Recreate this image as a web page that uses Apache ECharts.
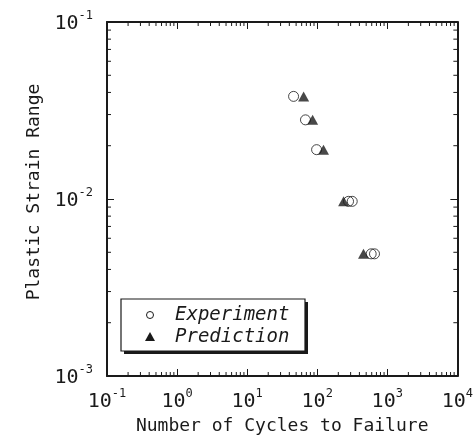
<!DOCTYPE html>
<html>
<head>
<meta charset="utf-8">
<script src="https://cdn.jsdelivr.net/npm/echarts@6/dist/echarts.min.js"></script>
<style>
  html, body { margin: 0; padding: 0; background: #ffffff; }
  #chart { width: 476px; height: 445px; }
</style>
</head>
<body>
<div id="chart"></div>
<script>
// Fatigue data: cycles to failure vs plastic strain range
const experimentCycles = [46, 68, 98, 280, 316, 589, 657];
const experimentStrain = [0.038, 0.028, 0.019, 0.0097, 0.0097, 0.0049, 0.0049];
const predictionCycles = [64, 86, 123, 238, 458];
const predictionStrain = [0.038, 0.028, 0.019, 0.0097, 0.0049];

const seriesNames = ['Experiment', 'Prediction'];
const xAxisName = 'Number of Cycles to Failure';
const yAxisName = 'Plastic Strain Range';
const xTickExponents = [-1, 0, 1, 2, 3, 4];
const yTickExponents = [-3, -2, -1];

const FONT = 'DejaVu Sans Mono';
const INK = '#1a1a1a';

const xMin = Math.pow(10, xTickExponents[0]);
const xMax = Math.pow(10, xTickExponents[xTickExponents.length - 1]);
const yMin = Math.pow(10, yTickExponents[0]);
const yMax = Math.pow(10, yTickExponents[yTickExponents.length - 1]);

// minor tick values 2..9 within each decade
function minorValues(exps) {
  const out = [];
  for (let i = 0; i < exps.length - 1; i++) {
    for (let m = 2; m <= 9; m++) out.push(m * Math.pow(10, exps[i]));
  }
  return out;
}

function powerLabel(value) {
  const e = Math.round(Math.log10(value));
  return '{b|10}{s|' + e + '}';
}

const labelRich = {
  b: { fontFamily: FONT, fontSize: 20, color: INK, lineHeight: 24, verticalAlign: 'bottom' },
  s: { fontFamily: FONT, fontSize: 12, color: INK, lineHeight: 24, verticalAlign: 'top', padding: [0, 0, 8, 0] }
};

const axisLineStyle = { show: true, lineStyle: { color: INK, width: 2 } };
const majorTick = { show: true, inside: true, length: 7, lineStyle: { color: INK, width: 1 } };

function pairs(xs, ys) { return xs.map((x, i) => [x, ys[i]]); }

// legend box (drawn as graphic elements with a hard drop shadow)
const legendBox = { x: 121, y: 299, w: 184, h: 52 };
const legendRowY = [315, 337];
const legendIconX = 150;
const legendTextX = 175;

const legendGraphic = [
  { type: 'rect', z: 50, shape: { x: legendBox.x + 3, y: legendBox.y + 3, width: legendBox.w, height: legendBox.h },
    style: { fill: INK } },
  { type: 'rect', z: 51, shape: { x: legendBox.x, y: legendBox.y, width: legendBox.w, height: legendBox.h },
    style: { fill: '#ffffff', stroke: INK, lineWidth: 1.2 } },
  { type: 'circle', z: 52, shape: { cx: legendIconX, cy: legendRowY[0], r: 3.5 },
    style: { fill: 'none', stroke: INK, lineWidth: 1 } },
  { type: 'polygon', z: 52, shape: { points: [[legendIconX, legendRowY[1] - 5], [legendIconX - 5, legendRowY[1] + 4], [legendIconX + 5, legendRowY[1] + 4]] },
    style: { fill: INK } },
  { type: 'text', z: 52, x: legendTextX, y: legendRowY[0],
    style: { text: seriesNames[0], font: 'italic 19px "' + FONT + '"', fill: INK, verticalAlign: 'middle', align: 'left' } },
  { type: 'text', z: 52, x: legendTextX, y: legendRowY[1],
    style: { text: seriesNames[1], font: 'italic 19px "' + FONT + '"', fill: INK, verticalAlign: 'middle', align: 'left' } }
];

const option = {
  animation: false,
  backgroundColor: '#ffffff',
  grid: { left: 107, right: 18, top: 22, bottom: 69, containLabel: false },
  xAxis: [
    {
      type: 'log', logBase: 10, min: xMin, max: xMax, splitNumber: 5,
      position: 'bottom',
      name: xAxisName, nameLocation: 'middle', nameGap: 36,
      nameTextStyle: { fontFamily: FONT, fontSize: 18, color: INK },
      axisLine: axisLineStyle, axisTick: majorTick,
      axisLabel: { margin: 12, formatter: powerLabel, rich: labelRich },
      splitLine: { show: false }
    },
    {
      type: 'log', logBase: 10, min: xMin, max: xMax, splitNumber: 5,
      position: 'top',
      axisLine: axisLineStyle, axisTick: majorTick,
      axisLabel: { show: false }, splitLine: { show: false }
    }
  ],
  yAxis: [
    {
      type: 'log', logBase: 10, min: yMin, max: yMax, splitNumber: 2,
      position: 'left',
      name: yAxisName, nameLocation: 'middle', nameGap: 57, nameRotate: 90,
      nameTextStyle: { fontFamily: FONT, fontSize: 18, color: INK, padding: [0, 0, 0, 14] },
      axisLine: axisLineStyle, axisTick: majorTick,
      axisLabel: { margin: 14, formatter: powerLabel, rich: labelRich },
      splitLine: { show: false }
    },
    {
      type: 'log', logBase: 10, min: yMin, max: yMax, splitNumber: 2,
      position: 'right',
      axisLine: axisLineStyle, axisTick: majorTick,
      axisLabel: { show: false }, splitLine: { show: false }
    }
  ],
  graphic: legendGraphic,
  series: [
    {
      name: 'minor-x', type: 'custom', xAxisIndex: 0, yAxisIndex: 0, silent: true, clip: false,
      data: minorValues(xTickExponents).map(v => [v, yMin]),
      renderItem: function (params, api) {
        const v = api.value(0);
        const b = api.coord([v, yMin]);
        const t = api.coord([v, yMax]);
        return {
          type: 'group', children: [
            { type: 'line', shape: { x1: b[0], y1: b[1], x2: b[0], y2: b[1] - 4 }, style: { stroke: INK, lineWidth: 1 } },
            { type: 'line', shape: { x1: t[0], y1: t[1], x2: t[0], y2: t[1] + 4 }, style: { stroke: INK, lineWidth: 1 } }
          ]
        };
      }
    },
    {
      name: 'minor-y', type: 'custom', xAxisIndex: 0, yAxisIndex: 0, silent: true, clip: false,
      data: minorValues(yTickExponents).map(v => [xMin, v]),
      renderItem: function (params, api) {
        const v = api.value(1);
        const l = api.coord([xMin, v]);
        const r = api.coord([xMax, v]);
        return {
          type: 'group', children: [
            { type: 'line', shape: { x1: l[0], y1: l[1], x2: l[0] + 4, y2: l[1] }, style: { stroke: INK, lineWidth: 1 } },
            { type: 'line', shape: { x1: r[0], y1: r[1], x2: r[0] - 4, y2: r[1] }, style: { stroke: INK, lineWidth: 1 } }
          ]
        };
      }
    },
    {
      name: seriesNames[0], type: 'scatter', xAxisIndex: 0, yAxisIndex: 0,
      symbol: 'circle', symbolSize: 10,
      itemStyle: { color: 'rgba(255,255,255,0)', borderColor: INK, borderWidth: 1 },
      data: pairs(experimentCycles, experimentStrain),
      z: 3
    },
    {
      name: seriesNames[1], type: 'scatter', xAxisIndex: 0, yAxisIndex: 0,
      symbol: 'triangle', symbolSize: [11, 10],
      itemStyle: { color: INK },
      data: pairs(predictionCycles, predictionStrain),
      z: 4
    }
  ]
};

const chart = echarts.init(document.getElementById('chart'), null, { renderer: 'canvas' });
chart.setOption(option);
</script>
</body>
</html>
